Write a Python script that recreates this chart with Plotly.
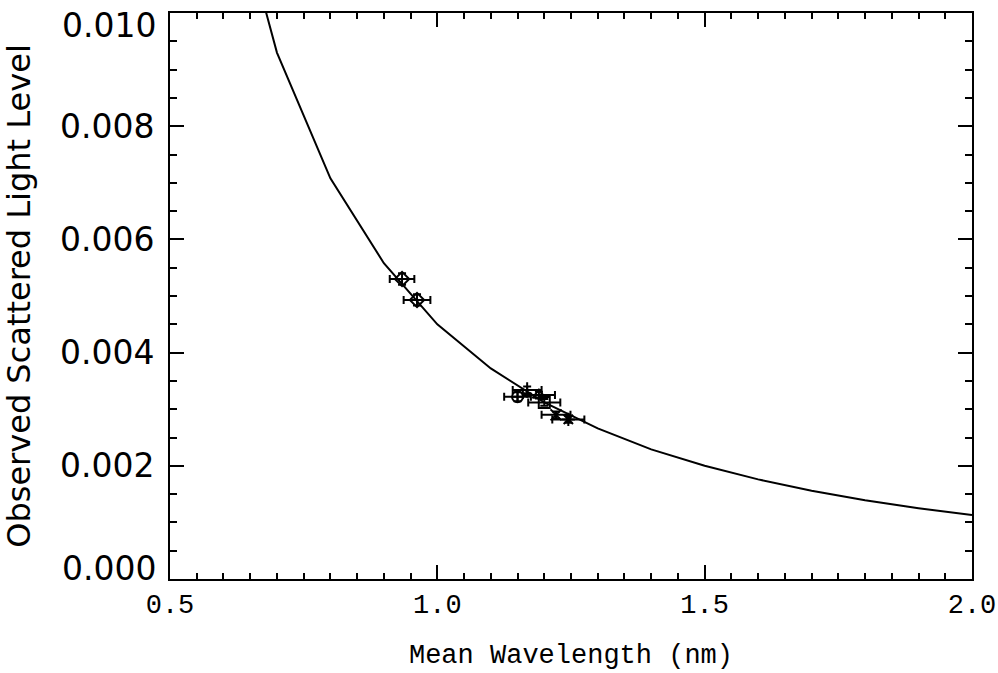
import plotly.graph_objects as go

# Model curve
curve_lambda = [0.6, 0.7, 0.8, 0.9, 1.0, 1.1, 1.2, 1.3, 1.4, 1.5, 1.6, 1.7, 1.8, 1.9, 2.0]
curve_level = [0.0128, 0.00930, 0.00708, 0.00558, 0.00450, 0.00372, 0.00312, 0.00266,
               0.00229, 0.00200, 0.00176, 0.00156, 0.00139, 0.00125, 0.00113]

# Observed points
obs_lambda = [0.934, 0.962, 1.150, 1.168, 1.190, 1.200, 1.222, 1.245]
obs_level = [0.00530, 0.00493, 0.00322, 0.00334, 0.00325, 0.00312, 0.00290, 0.00282]
obs_xerr = [0.023, 0.025, 0.025, 0.027, 0.030, 0.030, 0.027, 0.030]
obs_yerr = [0.00010, 0.00010, 0.00008, 0.00006, 0.00006, 0.00006, 0.00006, 0.00006]
obs_symbols = ["diamond-open", "diamond-open", "circle-cross-open", "cross-thin-open",
               "triangle-up-open", "square-open", "x-thin-open", "asterisk-open"]

x_tickvals = [0.5, 1.0, 1.5, 2.0]
x_ticktext = ["0.5", "1.0", "1.5", "2.0"]
y_tickvals = [0.000, 0.002, 0.004, 0.006, 0.008, 0.010]
y_ticktext = ["0.000", "0.002", "0.004", "0.006", "0.008", "0.010"]

YFONT = dict(family="DejaVu Sans", size=33, color="black")

fig = go.Figure()
fig.add_trace(go.Scatter(x=curve_lambda, y=curve_level, mode="lines",
                         line=dict(color="black", width=2), showlegend=False))
for i in range(len(obs_lambda)):
    fig.add_trace(go.Scatter(
        x=[obs_lambda[i]], y=[obs_level[i]], mode="markers",
        marker=dict(symbol=obs_symbols[i], size=11, color="black",
                    line=dict(color="black", width=2)),
        error_x=dict(type="data", array=[obs_xerr[i]], color="black", thickness=2, width=4),
        error_y=dict(type="data", array=[obs_yerr[i]], color="black", thickness=2, width=4),
        showlegend=False, cliponaxis=False))

# interior y labels on the axis; end labels kept inside the frame (as in the reference)
inner_text = [""] + y_ticktext[1:-1] + [""]
fig.add_annotation(x=0, xref="paper", y=y_tickvals[-1], yref="y", text=y_ticktext[-1],
                   showarrow=False, xanchor="right", yanchor="top", xshift=-13,
                   yshift=8, borderpad=0, font=YFONT)
fig.add_annotation(x=0, xref="paper", y=y_tickvals[0], yref="y", text=y_ticktext[0],
                   showarrow=False, xanchor="right", yanchor="bottom", xshift=-13,
                   yshift=-10, borderpad=0, font=YFONT)

fig.update_layout(
    width=998, height=673,
    margin=dict(l=170, r=26, t=13, b=94),
    paper_bgcolor="white", plot_bgcolor="white",
    xaxis=dict(range=[0.5, 2.0], tickvals=x_tickvals, ticktext=x_ticktext,
               automargin=False, ticklabeloverflow="allow",
               ticks="inside", ticklen=14, tickwidth=2, tickcolor="black",
               showline=True, linecolor="black", linewidth=2, mirror="ticks",
               showgrid=False, zeroline=False,
               tickfont=dict(family="Liberation Mono", size=27, color="black"),
               title=dict(text="Mean Wavelength (nm)",
                          font=dict(family="Liberation Mono", size=27, color="black"),
                          standoff=24),
               minor=dict(dtick=0.05, ticks="inside", ticklen=6, tickwidth=1.5,
                          tickcolor="black", showgrid=False)),
    yaxis=dict(range=[-0.0000001, 0.0100001], tickvals=y_tickvals, ticktext=inner_text,
               automargin=False, ticklabeloverflow="allow",
               ticklabelstandoff=7,
               ticks="inside", ticklen=14, tickwidth=2, tickcolor="black",
               showline=True, linecolor="black", linewidth=2, mirror="ticks",
               showgrid=False, zeroline=False,
               tickfont=YFONT,
               title=dict(text="Observed Scattered Light Level",
                          font=dict(family="DejaVu Sans", size=32, color="black"),
                          standoff=20),
               minor=dict(dtick=0.0005, ticks="inside", ticklen=7, tickwidth=1.5,
                          tickcolor="black", showgrid=False)),
)

fig.write_html("out.html", config={"displayModeBar": False},
               post_script="document.body.style.margin='0';document.body.style.padding='0';")
